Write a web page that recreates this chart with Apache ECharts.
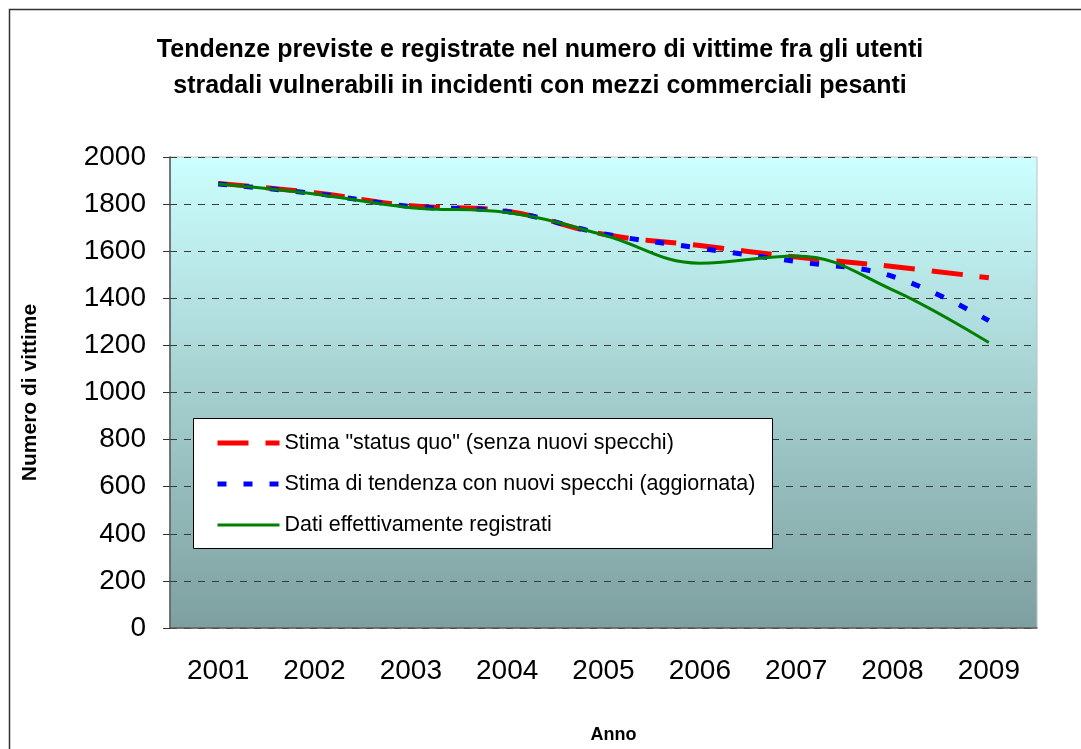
<!DOCTYPE html>
<html>
<head>
<meta charset="utf-8">
<script src="https://cdn.jsdelivr.net/npm/echarts@6/dist/echarts.min.js"></script>
<style>
  html, body { margin: 0; padding: 0; background: #fff; }
  #chart { width: 1081px; height: 749px; }
</style>
</head>
<body>
<div id="chart"></div>
<script>
const years = ['2001', '2002', '2003', '2004', '2005', '2006', '2007', '2008', '2009']
const statusQuo = [1888, 1848, 1793, 1770, 1672, 1624, 1575, 1535, 1487]
const trendMirrors = [1885, 1845, 1790, 1768, 1674, 1613, 1556, 1493, 1305]
const recorded = [1885, 1843, 1785, 1764, 1669, 1549, 1580, 1436, 1212]
const yTicks = [0, 200, 400, 600, 800, 1000, 1200, 1400, 1600, 1800, 2000]

const font = 'Arial, "Liberation Sans", sans-serif'
const chart = echarts.init(document.getElementById('chart'))

const nameRed = 'Stima "status quo" (senza nuovi specchi)'
const nameBlue = 'Stima di tendenza con nuovi specchi (aggiornata)'
const nameGreen = 'Dati effettivamente registrati'

chart.setOption({
  animation: false,
  title: {
    text: 'Tendenze previste e registrate nel numero di vittime fra gli utenti\nstradali vulnerabili in incidenti con mezzi commerciali pesanti',
    left: 535,
    top: 27,
    textAlign: 'center',
    textStyle: { fontFamily: font, fontSize: 25, fontWeight: 'bold', color: '#000', lineHeight: 36 }
  },
  graphic: [
    { // cornice esterna
      type: 'rect',
      shape: { x: 9.5, y: 9.5, width: 1100, height: 800 },
      style: { fill: 'none', stroke: '#333', lineWidth: 1.5 },
      z: 0
    },
    { // riquadro legenda
      type: 'rect',
      shape: { x: 193.5, y: 418.5, width: 579, height: 130 },
      style: { fill: '#fff', stroke: '#000', lineWidth: 1 },
      z: 5
    }
  ],
  legend: {
    orient: 'vertical',
    left: 215,
    top: 432,
    padding: 0,
    itemWidth: 62,
    itemHeight: 20,
    itemGap: 19,
    itemTextGap: 6,
    z: 10,
    itemStyle: { opacity: 0 },
    textStyle: { fontFamily: font, fontSize: 21.5, color: '#000' },
    data: [
      { name: nameRed, lineStyle: { width: 5 } },
      { name: nameBlue, lineStyle: { width: 5 } },
      { name: nameGreen, lineStyle: { width: 3 } }
    ]
  },
  grid: {
    left: 170,
    right: 44,
    top: 157,
    bottom: 121,
    outerBoundsMode: 'none',
    containLabel: false,
    show: true,
    borderColor: '#bfbfbf',
    borderWidth: 1,
    backgroundColor: new echarts.graphic.LinearGradient(0, 0, 0, 1, [
      { offset: 0, color: '#ccffff' },
      { offset: 1, color: '#7d9f9f' }
    ])
  },
  xAxis: {
    type: 'category',
    data: years,
    boundaryGap: true,
    name: 'Anno',
    nameLocation: 'middle',
    nameGap: 98,
    nameTextStyle: { fontFamily: font, fontSize: 18, fontWeight: 'bold', color: '#000', padding: [0, 0, 0, 20] },
    axisLine: { lineStyle: { color: '#555', width: 1.5 } },
    axisTick: { length: 9, lineStyle: { color: '#333' } },
    axisLabel: { fontFamily: font, fontSize: 28, color: '#000', margin: 29 },
    splitLine: { show: false }
  },
  yAxis: {
    type: 'value',
    min: yTicks[0],
    max: yTicks[yTicks.length - 1],
    interval: 200,
    name: 'Numero di vittime',
    nameLocation: 'middle',
    nameGap: 129,
    nameTextStyle: { fontFamily: font, fontSize: 21, fontWeight: 'bold', color: '#000' },
    axisLine: { show: true, lineStyle: { color: '#555', width: 1.5 } },
    axisTick: { show: true, length: 7, lineStyle: { color: '#333' } },
    axisLabel: { fontFamily: font, fontSize: 28, color: '#000', margin: 24, formatter: v => String(v) },
    splitLine: { lineStyle: { color: '#3a3a3a', type: [7, 7], width: 1 } }
  },
  series: [
    {
      name: nameRed,
      type: 'line',
      data: statusQuo,
      smooth: 0.4,
      symbol: 'none',
      lineStyle: { color: '#ff0000', width: 5, type: [31, 17], cap: 'butt' },
      itemStyle: { color: '#ff0000' },
      z: 2
    },
    {
      name: nameBlue,
      type: 'line',
      data: trendMirrors,
      smooth: 0.4,
      symbol: 'none',
      lineStyle: { color: '#0000ff', width: 5, type: [9, 17], cap: 'butt' },
      itemStyle: { color: '#0000ff' },
      z: 3
    },
    {
      name: nameGreen,
      type: 'line',
      data: recorded,
      smooth: 0.4,
      symbol: 'none',
      lineStyle: { color: '#008000', width: 3 },
      itemStyle: { color: '#008000' },
      z: 4
    }
  ]
})
</script>
</body>
</html>
